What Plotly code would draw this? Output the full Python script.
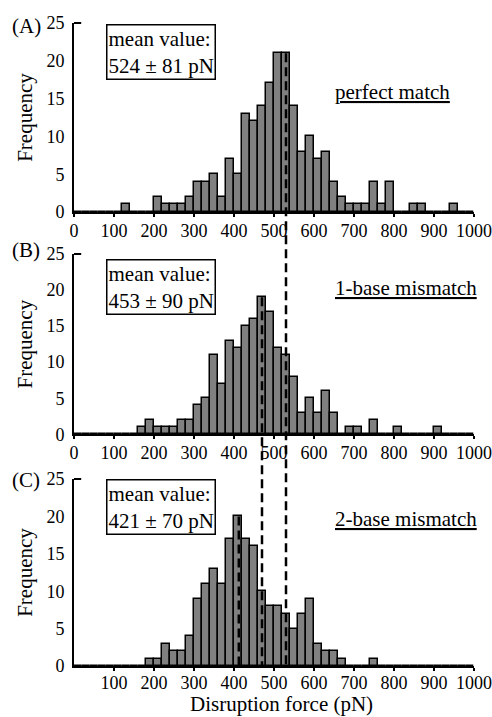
import plotly.graph_objects as go

# ---------------- data ----------------
bin_width = 20
bin_starts = list(range(0, 1000, bin_width))          # 0, 20, ..., 980

counts_A = [0, 0, 0, 0, 0, 0, 1, 0, 0, 0,
            2, 1, 1, 1, 2, 4, 4, 5, 2, 7,
            5, 13, 12, 14, 17, 21, 21, 14, 8, 10,
            7, 8, 4, 2, 1, 1, 1, 4, 1, 4,
            0, 0, 1, 1, 0, 0, 0, 1, 0, 0]
counts_B = [0, 0, 0, 0, 0, 0, 0, 0, 1, 2,
            1, 1, 1, 2, 2, 4, 5, 11, 7, 13,
            12, 15, 16, 19, 17, 12, 11, 8, 3, 5,
            3, 6, 3, 0, 1, 1, 0, 2, 0, 0,
            1, 0, 0, 0, 0, 1, 0, 0, 0, 0]
counts_C = [0, 0, 0, 0, 0, 0, 0, 0, 0, 1,
            1, 3, 2, 2, 4, 9, 11, 13, 11, 17,
            20, 17, 16, 10, 8, 8, 7, 5, 7, 9,
            3, 2, 2, 1, 0, 0, 0, 1, 0, 0,
            0, 0, 0, 0, 0, 0, 0, 0, 0, 0]

panel_letters = ["(A)", "(B)", "(C)"]
mean_texts = ["mean value:<br>524 ± 81 pN",
              "mean value:<br>453 ± 90 pN",
              "mean value:<br>421 ± 70 pN"]
match_labels = ["perfect match", "1-base mismatch", "2-base mismatch"]
ref_lines = [530, 470, 412]            # dashed reference lines (pN), one starting in each panel

x_ticks_AB = [0, 100, 200, 300, 400, 500, 600, 700, 800, 900, 1000]
x_ticks_C = [100, 200, 300, 400, 500, 600, 700, 800, 900, 1000]
y_ticks = [0, 5, 10, 15, 20, 25]
x_title = "Disruption force (pN)"
y_title = "Frequency"

# ---------------- layout geometry ----------------
W, H = 492, 717
ML, MR, MT, MB = 74, 18, 23, 51
plot_h = H - MT - MB
def py(px):  # pixel y -> paper fraction
    return (H - MB - px) / plot_h
def px_(p):  # pixel x -> paper fraction
    return (p - ML) / (W - ML - MR)

domains = [[py(212), 1.0], [py(434.3), py(254)], [0.0, py(479)]]
box_y = [0.995, 0.971, 1.0]
match_y = [0.635, 0.811, 0.786]
letter_y = [26, 250, 480]

FONT = "'Liberation Serif', 'Times New Roman', Times, 'DejaVu Serif', serif"
fig = go.Figure()
all_counts = [counts_A, counts_B, counts_C]
centers = [s + bin_width / 2 for s in bin_starts]

for i, counts in enumerate(all_counts):
    n = "" if i == 0 else str(i + 1)
    fig.add_trace(go.Bar(
        x=centers, y=counts, width=bin_width,
        marker=dict(color="#808080", line=dict(color="black", width=1.5)),
        xaxis="x" + n, yaxis="y" + n, hoverinfo="x+y"))
    last = (i == 2)
    fig.layout["xaxis" + n] = dict(
        domain=[0, 1], range=[0, 1000], anchor="y" + n,
        showline=True, linecolor="black", linewidth=2,
        ticks="outside", ticklen=3, tickwidth=1.5, tickcolor="black",
        tickmode="array", tickvals=(x_ticks_C if last else x_ticks_AB),
        ticklabelstandoff=(-4 if last else -2),
        tickfont=dict(size=18, family=FONT, color="black"),
        showgrid=False, zeroline=False, automargin=False)
    fig.layout["yaxis" + n] = dict(
        domain=domains[i], range=[0, 25], anchor="x" + n,
        showline=True, linecolor="black", linewidth=2,
        ticks="", tickmode="array", tickvals=y_ticks,
        ticklabelstandoff=4,
        tickfont=dict(size=18, family=FONT, color="black"),
        showgrid=False, zeroline=False, automargin=False,
        title=dict(text=y_title, standoff=8,
                   font=dict(size=21, family=FONT, color="black")))

    # small cap at top of y axis
    fig.add_shape(type="line", xref="x" + n, yref="y" + n + " domain",
                  x0=0, x1=18, y0=1, y1=1, line=dict(color="black", width=2))

    # mean value box
    fig.add_annotation(text=mean_texts[i], xref="x" + n + " domain", yref="y" + n + " domain",
                       x=0.08, y=box_y[i], xanchor="left", yanchor="top", align="left",
                       showarrow=False, bordercolor="black", borderwidth=1.5, borderpad=1,
                       bgcolor="white", font=dict(size=21, family=FONT, color="black"))
    # match label
    fig.add_annotation(text="<u>" + match_labels[i] + "</u>",
                       xref="x" + n + " domain", yref="y" + n + " domain",
                       x=px_(333), y=match_y[i], xanchor="left", yanchor="middle",
                       showarrow=False, font=dict(size=21, family=FONT, color="black"))
    # panel letter
    fig.add_annotation(text=panel_letters[i], xref="paper", yref="paper",
                       x=px_(26), y=py(letter_y[i]), xanchor="center", yanchor="middle",
                       showarrow=False, font=dict(size=21, family=FONT, color="black"))

# x-axis title for the bottom panel
fig.add_annotation(text=x_title, xref="paper", yref="paper",
                   x=px_(281), y=py(718), xanchor="center", yanchor="bottom",
                   showarrow=False, font=dict(size=21, family=FONT, color="black"))

# dashed reference lines: start at top of the bar they cross in their panel, run down to panel C baseline
for i, xv in enumerate(ref_lines):
    h = all_counts[i][int(xv // bin_width)]
    d0, d1 = domains[i]
    y_top = d0 + h / 25 * (d1 - d0)
    fig.add_shape(type="line", xref="x", yref="paper", x0=xv, x1=xv,
                  y0=y_top, y1=domains[2][0],
                  line=dict(color="black", width=2.5, dash="9px,5px"))

fig.update_layout(
    width=W, height=H, margin=dict(l=ML, r=MR, t=MT, b=MB),
    paper_bgcolor="white", plot_bgcolor="white",
    bargap=0, showlegend=False,
    font=dict(family=FONT, color="black"))

fig.write_html("out.html")
